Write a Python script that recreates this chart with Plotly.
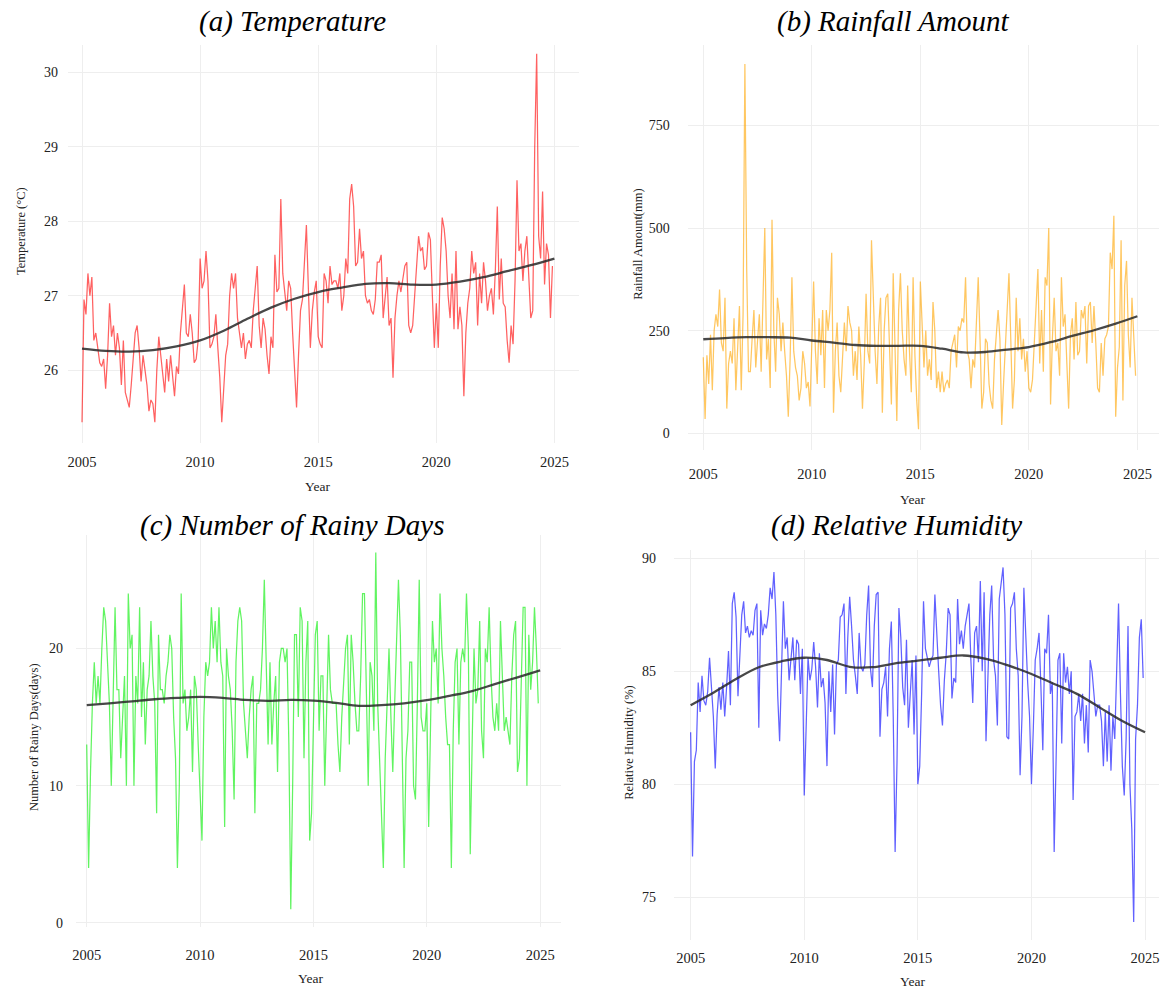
import plotly.graph_objects as go

# ---------------- monthly series, Jan 2005 - Dec 2024 ----------------
temperature = [
    25.3, 26.95, 26.75, 27.3, 27.0, 27.25, 26.4, 26.5, 26.3, 26.1, 26.05, 26.15,
    25.75, 26.2, 26.9, 26.45, 26.6, 26.2, 26.5, 26.3, 25.8, 26.4, 25.7, 25.6,
    25.5, 25.8, 26.2, 26.5, 26.6, 26.3, 25.85, 26.2, 26.0, 25.8, 25.45, 25.6,
    25.55, 25.3, 26.0, 26.45, 26.2, 25.9, 25.7, 26.15, 25.85, 26.2, 25.9, 25.65,
    26.05, 25.95, 26.5, 26.9, 27.15, 26.5, 26.45, 26.75, 26.5, 26.1, 26.15, 26.4,
    27.5, 27.1, 27.2, 27.6, 27.2, 26.3, 26.35, 26.45, 26.75, 26.3, 25.9, 25.3,
    25.8, 26.2, 26.35, 27.0, 27.3, 27.1, 27.3, 26.7, 26.5, 26.3, 26.5, 26.15,
    26.35, 26.4, 26.3, 26.8, 27.1, 27.4, 26.6, 26.3, 26.7, 26.55, 26.2, 25.95,
    26.45, 26.3, 27.55, 27.05, 27.1, 28.3, 27.3, 27.0, 26.8, 27.2, 27.1, 26.5,
    26.0, 25.5, 26.2, 26.8, 26.95, 27.4, 27.95, 27.1, 26.3, 26.8, 27.05, 27.2,
    26.45, 26.35, 26.3, 27.3, 27.2, 26.9, 27.4, 27.15, 27.2, 27.2, 27.1, 27.3,
    26.8, 27.0, 27.5, 27.3, 28.3, 28.5, 28.2, 27.4, 27.45, 27.9, 27.5, 27.6,
    27.0, 26.9, 26.95, 26.8, 26.75, 26.95, 27.45, 27.45, 27.55, 26.7, 26.95, 27.25,
    26.6, 26.7, 25.9, 26.7, 27.0, 27.2, 27.05, 27.2, 27.4, 27.45, 26.6, 26.5,
    26.6, 27.0, 27.4, 27.8, 27.6, 27.65, 27.35, 27.4, 27.85, 27.75, 27.0, 26.3,
    26.9, 26.3, 27.4, 28.05, 27.9, 27.6, 27.0, 26.7, 27.3, 26.55, 27.6, 26.55,
    26.85, 26.6, 25.65, 26.5, 26.9, 27.1, 27.6, 27.3, 27.45, 26.6, 27.3, 26.9,
    27.45, 27.2, 26.8, 27.0, 27.1, 26.75, 27.35, 28.2, 26.95, 27.5, 26.9, 26.85,
    26.4, 26.1, 26.6, 26.35, 27.2, 28.55, 27.6, 27.7, 27.2, 27.6, 27.8, 27.2,
    26.7, 26.8, 29.0, 30.25, 27.8, 27.5, 28.4, 27.15, 27.7, 27.55, 26.7, 27.4,
]

rainfall = [
    185, 35, 190, 120, 240, 105, 250, 290, 260, 350, 220, 200,
    330, 60, 170, 200, 170, 280, 105, 200, 310, 105, 290, 900,
    400, 150, 150, 230, 300, 160, 220, 290, 150, 300, 500, 180,
    230, 110, 520, 250, 150, 330, 290, 200, 270, 200, 140, 40,
    180, 380, 200, 160, 140, 80, 110, 200, 170, 110, 125, 65,
    250, 370, 200, 120, 280, 190, 300, 110, 300, 250, 300, 440,
    50, 200, 270, 140, 100, 200, 270, 200, 310, 270, 250, 140,
    200, 130, 260, 190, 60, 170, 340, 200, 170, 470, 300, 200,
    120, 260, 330, 50, 250, 330, 340, 220, 70, 390, 230, 30,
    300, 390, 250, 180, 140, 360, 200, 100, 380, 190, 80, 10,
    370, 260, 160, 250, 140, 180, 130, 320, 250, 110, 150, 100,
    150, 100, 120, 130, 110, 200, 220, 240, 160, 260, 250, 280,
    270, 380, 200, 180, 110, 180, 160, 270, 380, 230, 60, 100,
    230, 220, 120, 80, 60, 180, 230, 300, 230, 20, 120, 200,
    290, 390, 230, 60, 130, 330, 200, 280, 180, 230, 150, 200,
    110, 100, 130, 240, 310, 400, 170, 300, 150, 380, 360, 500,
    70, 230, 330, 200, 220, 140, 380, 260, 290, 170, 60, 240,
    280, 180, 320, 190, 200, 300, 280, 310, 170, 310, 320, 220,
    310, 220, 110, 100, 220, 140, 230, 240, 260, 440, 400, 530,
    40, 160, 210, 470, 80, 360, 420, 240, 160, 330, 250, 140,
]

rainy_days = [
    13, 4, 11, 16, 19, 16, 18, 16, 20, 23, 22, 19,
    16, 10, 17, 23, 17, 17, 12, 15, 18, 10, 24, 20,
    21, 10, 18, 16, 23, 15, 19, 13, 17, 18, 22, 18,
    16, 8, 21, 17, 17, 16, 18, 19, 21, 20, 15, 12,
    4, 10, 24, 16, 17, 14, 15, 17, 11, 18, 17, 13,
    9, 6, 15, 19, 18, 19, 23, 20, 22, 19, 23, 19,
    18, 7, 20, 18, 17, 14, 9, 19, 22, 23, 22, 16,
    14, 12, 15, 17, 18, 8, 16, 16, 17, 20, 25, 19,
    13, 19, 13, 16, 18, 11, 19, 20, 20, 19, 20, 13,
    1, 10, 21, 21, 15, 23, 22, 12, 19, 22, 6, 8,
    15, 21, 22, 14, 18, 18, 10, 15, 21, 17, 16, 16,
    16, 13, 11, 15, 18, 20, 21, 13, 21, 19, 16, 14,
    14, 18, 24, 24, 17, 10, 19, 18, 14, 27, 16, 12,
    8, 4, 12, 16, 20, 15, 11, 16, 20, 25, 21, 13,
    4, 12, 14, 19, 19, 10, 9, 16, 25, 15, 14, 14,
    16, 7, 14, 22, 19, 20, 16, 24, 20, 18, 15, 13,
    13, 4, 14, 19, 20, 13, 19, 20, 19, 24, 20, 5,
    13, 20, 16, 17, 22, 14, 12, 20, 19, 23, 18, 15,
    14, 16, 14, 22, 18, 14, 15, 14, 13, 18, 21, 22,
    11, 12, 18, 23, 23, 10, 21, 17, 19, 23, 20, 16,
]

humidity = [
    82.3, 76.8, 81.0, 81.5, 84.5, 83.2, 84.8, 83.7, 83.5, 84.1, 85.6, 84.2,
    83.0, 80.7, 83.1, 84.3, 83.3, 84.5, 83.0, 84.3, 85.9, 83.5, 88.0, 88.5,
    87.4, 83.9, 86.0, 87.5, 88.1, 86.7, 87.0, 86.5, 86.8, 86.6, 87.7, 88.0,
    82.5, 87.7, 86.6, 87.1, 86.9, 87.5, 88.7, 88.2, 89.4, 87.5, 83.9, 81.9,
    85.0, 88.1, 86.0, 86.5, 84.6, 85.4, 86.5, 84.6, 86.4, 86.2, 84.0, 86.0,
    79.5, 82.5, 85.6, 84.6, 85.1, 86.3, 85.2, 83.4, 85.8, 84.3, 84.7, 83.6,
    80.8, 85.0, 83.2, 85.3, 82.2, 85.3, 85.5, 87.4, 87.5, 88.0, 84.0, 86.5,
    88.3, 87.0, 85.5, 84.8, 84.0, 86.7, 85.2, 85.0, 85.3, 87.5, 88.8, 85.1,
    84.3, 87.0, 88.4, 88.5, 82.1, 84.2, 84.5, 85.2, 83.0, 86.0, 87.2, 83.0,
    77.0, 81.0, 87.8, 86.5, 84.3, 83.5, 86.4, 82.5, 84.2, 85.5, 82.2, 85.7,
    80.0, 80.8, 84.0, 88.1, 86.0, 85.5, 85.2, 85.5, 85.7, 88.4, 86.5, 85.0,
    83.5, 82.6, 84.6, 85.8, 87.8, 87.5, 83.8, 84.7, 84.5, 88.2, 86.2, 86.8,
    86.0, 87.0, 87.5, 88.0, 85.5, 83.6, 86.7, 87.0, 85.4, 89.0, 85.0, 88.5,
    81.9, 84.5, 87.5, 88.8, 85.5, 84.8, 82.6, 88.2, 89.0, 89.6, 87.5, 82.1,
    82.0, 87.8, 88.0, 88.5, 86.0, 84.8, 80.4, 83.0, 88.7, 86.5, 84.5, 83.0,
    80.0, 82.5, 85.5, 86.0, 86.7, 84.3, 81.5, 86.0, 85.8, 87.5, 84.0, 84.5,
    77.0, 81.0, 85.5, 85.8, 81.8, 85.8, 84.5, 85.2, 84.0, 85.0, 79.3, 83.0,
    83.2, 84.0, 82.8, 84.0, 81.8, 83.5, 81.4, 85.5, 85.0, 84.0, 83.0, 83.5,
    83.5, 82.8, 80.8, 83.2, 81.0, 83.5, 80.6, 83.0, 82.0, 85.0, 88.0, 84.0,
    80.8, 79.5, 82.0, 87.0, 80.0, 78.0, 73.9, 82.0, 83.5, 86.5, 87.3, 84.7,
]

# ---------------- smoothed trend, one value per year ----------------
trend_years = list(range(2005, 2026))
temperature_trend = [26.29, 26.26, 26.25, 26.27, 26.32, 26.40, 26.53, 26.69, 26.84, 26.96,
                     27.05, 27.11, 27.16, 27.17, 27.15, 27.15, 27.19, 27.25, 27.33, 27.41, 27.50]
rainfall_trend = [229, 232, 234, 234, 233, 226, 221, 215, 213, 213,
                  213, 206, 197, 198, 204, 210, 222, 237, 251, 267, 285]
rainy_days_trend = [15.87, 16.0, 16.15, 16.3, 16.4, 16.47, 16.4, 16.25, 16.18, 16.25,
                    16.2, 16.04, 15.82, 15.87, 16.0, 16.23, 16.55, 16.9, 17.4, 17.9, 18.4]
humidity_trend = [83.5, 84.05, 84.66, 85.18, 85.44, 85.6, 85.5, 85.2, 85.18, 85.35,
                  85.47, 85.6, 85.7, 85.55, 85.25, 84.88, 84.44, 84.0, 83.4, 82.8, 82.3]

year_ticks = [2005, 2010, 2015, 2020, 2025]
months = [2005 + i / 12 for i in range(len(temperature))]

W, H = 1162, 991
SERIF = "Liberation Serif, Times New Roman, serif"
GRID = "#EEEEEE"


def px_x(p):
    return p / W


def px_y(p):
    return 1 - p / H


panels = [
    dict(y=temperature, t=temperature_trend, c="rgba(255,0,0,0.62)",
         xd=(65, 578), yd=(45, 445), xr=(2004.397, 2026.042), yr=(25.019, 30.371),
         yt=[26, 27, 28, 29, 30], yl=6, xl=5),
    dict(y=rainfall, t=rainfall_trend, c="rgba(255,165,0,0.62)",
         xd=(687, 1160), yd=(45, 452), xr=(2004.279, 2025.996), yr=(-41.3, 946.6),
         yt=[0, 250, 500, 750], yl=14, xl=10),
    dict(y=rainy_days, t=rainy_days_trend, c="rgba(0,238,0,0.62)",
         xd=(73, 560), yd=(537, 931), xr=(2004.516, 2025.923), yr=(-0.312, 28.28),
         yt=[0, 10, 20], yl=9, xl=14),
    dict(y=humidity, t=humidity_trend, c="rgba(0,0,255,0.62)",
         xd=(673, 1160), yd=(552, 944), xr=(2004.254, 2025.614), yr=(73.09, 90.382),
         yt=[75, 80, 85, 90], yl=14, xl=4),
]

fig = go.Figure()
layout_axes = {}
for i, p in enumerate(panels, start=1):
    xa = "x" if i == 1 else f"x{i}"
    ya = "y" if i == 1 else f"y{i}"
    fig.add_trace(go.Scatter(x=months, y=p["y"], mode="lines", xaxis=xa, yaxis=ya,
                             line=dict(color=p["c"], width=1.25), showlegend=False,
                             hoverinfo="skip"))
    fig.add_trace(go.Scatter(x=trend_years, y=p["t"], mode="lines", xaxis=xa, yaxis=ya,
                             line=dict(color="rgba(40,40,40,0.85)", width=2.3,
                                       shape="spline", smoothing=1.0),
                             showlegend=False, hoverinfo="skip"))
    kx = "xaxis" if i == 1 else f"xaxis{i}"
    ky = "yaxis" if i == 1 else f"yaxis{i}"
    layout_axes[kx] = dict(
        domain=[px_x(p["xd"][0]), px_x(p["xd"][1])], range=list(p["xr"]),
        anchor=ya, tickvals=year_ticks, showgrid=True, gridcolor=GRID, gridwidth=1.3,
        zeroline=False, showline=False, ticks="outside", ticklen=p["xl"],
        tickcolor="rgba(0,0,0,0)", tickfont=dict(family=SERIF, size=14.5, color="#222"),
    )
    layout_axes[ky] = dict(
        domain=[px_y(p["yd"][1]), px_y(p["yd"][0])], range=list(p["yr"]),
        anchor=xa, tickvals=p["yt"], showgrid=True, gridcolor=GRID, gridwidth=1.3,
        zeroline=False, showline=False, ticks="outside", ticklen=p["yl"],
        tickcolor="rgba(0,0,0,0)", tickfont=dict(family=SERIF, size=14, color="#222"),
    )

annotations = []
titles = [("(a) Temperature", 290, 22), ("(b) Rainfall Amount", 893, 22),
          ("(c) Number of Rainy Days", 290, 528), ("(d) Relative Humidity", 897, 528)]
for text, x, y in titles:
    annotations.append(dict(text=f"<i>{text}</i>", x=px_x(x), y=px_y(y), xref="paper",
                            yref="paper", showarrow=False, xanchor="center", yanchor="middle",
                            font=dict(family=SERIF, size=29, color="#000")))

year_labels = [(316, 488), (913, 502), (309, 982), (913, 985)]
for x, y in year_labels:
    annotations.append(dict(text="Year", x=px_x(x), y=px_y(y), xref="paper", yref="paper",
                            showarrow=False, xanchor="center", yanchor="middle",
                            font=dict(family=SERIF, size=13.5, color="#222")))

y_labels = [("Temperature (°C)", 18, 232), ("Rainfall Amount(mm)", 637, 245),
            ("Number of Rainy Days(days)", 31, 740), ("Relative Humidity (%)", 628, 745)]
for text, x, y in y_labels:
    annotations.append(dict(text=text, x=px_x(x), y=px_y(y), xref="paper", yref="paper",
                            showarrow=False, xanchor="center", yanchor="middle", textangle=-90,
                            font=dict(family=SERIF, size=12.5, color="#222")))

fig.update_layout(
    width=W, height=H, margin=dict(l=0, r=0, t=0, b=0),
    paper_bgcolor="white", plot_bgcolor="white",
    annotations=annotations, **layout_axes,
)

fig.write_html("out.html")
